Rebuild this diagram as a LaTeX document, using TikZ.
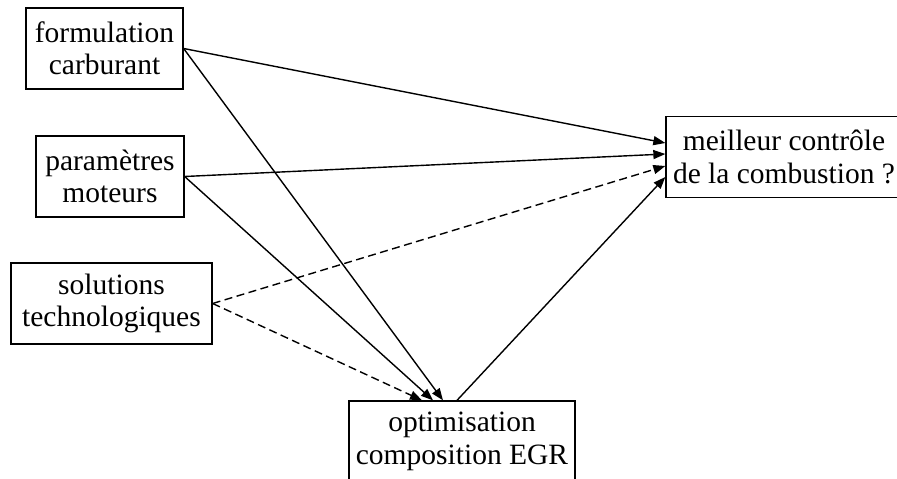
\documentclass[tikz,border=0pt]{standalone}
\usepackage{fontspec}
\setmainfont{Liberation Serif}
\usetikzlibrary{arrows.meta}

\begin{document}
\begin{tikzpicture}[x=1pt, y=-1pt,
    boite/.style={draw, line width=1.3pt, inner sep=0pt, align=center,
        minimum height=81pt, font=\fontsize{29.5}{32.5}\selectfont},
    fleche/.style={line width=1.4pt, -{Triangle[length=12pt, width=9pt]}},
    tirets/.style={fleche, dash pattern=on 8pt off 4.5pt}]

    % Cadre de l'image (la boite du bas et celle de droite sont coupees)
    \useasboundingbox (0,0) rectangle (897,479);

    % --- Les trois leviers a gauche ---
    \node[boite, minimum width=157pt] (carbu) at (104.5,48.5) {formulation\\carburant};
    \node[boite, minimum width=148pt] (moteur) at (110,176.5) {param\`etres\\moteurs};
    \node[boite, minimum width=201pt] (techno) at (111.5,303.5) {solutions\\technologiques};

    % --- EGR en bas, objectif a droite ---
    \node[boite, minimum width=226pt] (egr) at (462,441.5) {optimisation\\composition EGR};
    \node[boite, minimum width=236pt] (combu) at (784,157) {meilleur contr\^ole\\de la combustion ?};

    % Fleches vers le controle de la combustion
    \draw[fleche] (carbu.east) -- ([yshift=14pt]combu.west);
    \draw[fleche] (moteur.east) -- ([yshift=3pt]combu.west);
    \draw[tirets] (techno.east) -- ([yshift=-9pt]combu.west);
    \draw[fleche] ([xshift=-5pt]egr.north) -- ([yshift=-20pt]combu.west);

    % Fleches vers l'optimisation EGR
    \draw[fleche] (carbu.east) -- ([xshift=-19pt]egr.north);
    \draw[fleche] (moteur.east) -- ([xshift=-29pt]egr.north);
    \draw[tirets] (techno.east) -- ([xshift=-40pt]egr.north);

\end{tikzpicture}
\end{document}
